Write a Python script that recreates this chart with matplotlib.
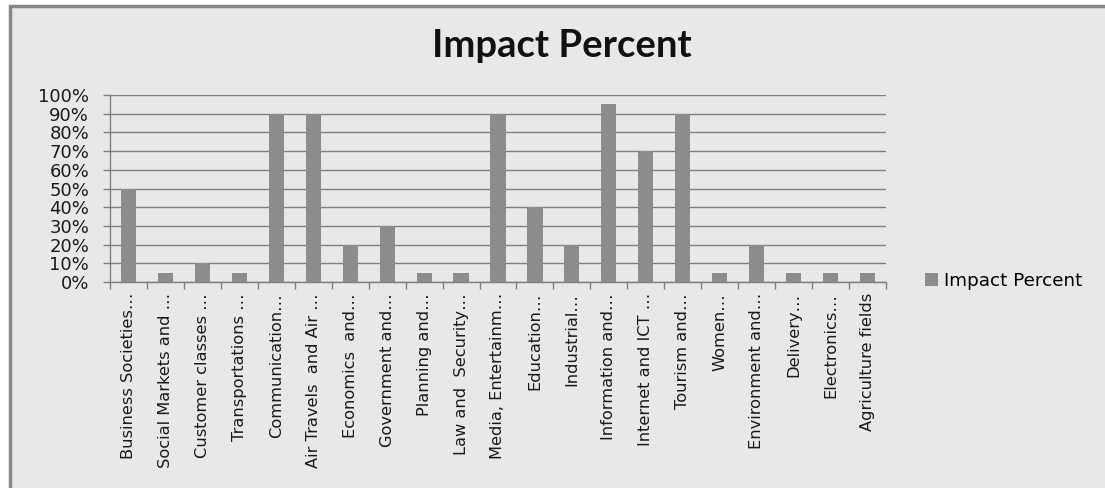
import numpy as np
import matplotlib
matplotlib.use("Agg")
import matplotlib.pyplot as plt
from matplotlib.patches import Rectangle

# data
categories = ["Business Societies\u2026", "Social Markets and \u2026", "Customer classes \u2026",
              "Transportations \u2026", "Communication\u2026", "Air Travels  and Air \u2026",
              "Economics  and\u2026", "Government and\u2026", "Planning and\u2026",
              "Law and  Security\u2026", "Media, Entertainm\u2026", "Education\u2026",
              "Industrial\u2026", "Information and\u2026", "Internet and ICT \u2026",
              "Tourism and\u2026", "Women\u2026", "Environment and\u2026", "Delivery\u2026",
              "Electronics\u2026", "Agriculture fields"]
impact = [50, 5, 10, 5, 90, 90, 20, 30, 5, 5, 90, 40, 20, 95, 70, 90, 5, 20, 5, 5, 5]
yticks = [0, 10, 20, 30, 40, 50, 60, 70, 80, 90, 100]

plt.rcParams["font.family"] = ["DejaVu Sans"]

W, H = 1105, 488
fig = plt.figure(figsize=(W/100, H/100), dpi=100, facecolor="white")

# chart area background with grey frame
fig.patches.append(Rectangle((9.5/W, -0.1), 1.2, (H - 6.5)/H + 0.1, transform=fig.transFigure,
                             facecolor="#e8e8e8", edgecolor="#878787", linewidth=2.5, zorder=-5))

ax = fig.add_axes([110/W, (H - 282)/H, (886 - 110)/W, (282 - 95)/H])
ax.set_facecolor("none")

x = np.arange(len(categories))
ax.bar(x, impact, width=0.41, color="#8c8c8c", label="Impact Percent", zorder=3)

ax.set_xlim(-0.5, len(categories) - 0.5)
ax.set_ylim(0, 100)
ax.set_yticks(yticks)
ax.set_yticklabels([f"{v}%" for v in yticks], fontsize=13, color="#1a1a1a")
ax.yaxis.grid(True, color="#7f7f7f", linewidth=1, zorder=1)

ax.set_xticks(x)
ax.set_xticklabels(categories, rotation=90, fontsize=11.7, color="#1a1a1a")
ax.set_xticks(np.arange(len(categories) + 1) - 0.5, minor=True)
ax.tick_params(axis="x", which="major", length=0, pad=8)
ax.tick_params(axis="x", which="minor", length=5, color="#7f7f7f", width=1)
ax.tick_params(axis="y", length=5, color="#7f7f7f", width=1, pad=10)

for s in ["top", "right"]:
    ax.spines[s].set_visible(False)
for s in ["left", "bottom"]:
    ax.spines[s].set_color("#7f7f7f")
    ax.spines[s].set_linewidth(1)

fig.text(562/W, 1 - 46/H, "Impact Percent", ha="center", va="center",
         fontsize=27.5, fontweight="bold", color="#111111", family="Lato")

ax.legend(loc="center left", bbox_to_anchor=(916/W, 1 - 281/H), bbox_transform=fig.transFigure,
          frameon=False, fontsize=13.2, handlelength=0.7, handleheight=0.7,
          handletextpad=0.35, borderpad=0)

fig.savefig("out.png", dpi=100, facecolor="white")
